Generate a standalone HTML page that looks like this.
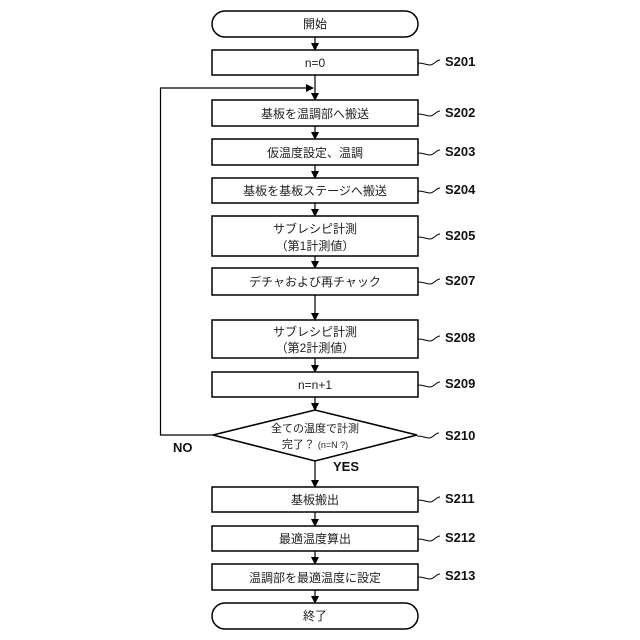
<!DOCTYPE html>
<html><head><meta charset="utf-8"><style>
html,body{margin:0;padding:0;background:#fff;}
svg{display:block;}
text{font-family:"Liberation Sans","Noto Sans CJK JP",sans-serif;}
</style></head><body>
<svg width="640" height="640" viewBox="0 0 640 640" xmlns="http://www.w3.org/2000/svg">
<defs><marker id="a" markerWidth="8" markerHeight="8" refX="7" refY="4" orient="auto" markerUnits="userSpaceOnUse"><path d="M0,0 L8,4 L0,8 z" fill="#000"/></marker></defs>
<g fill="#fff" stroke="#000" stroke-width="1.5">
<rect x="212" y="11" width="206" height="26" rx="13"/>
<rect x="212" y="50" width="206" height="25"/>
<rect x="212" y="100" width="206" height="26"/>
<rect x="212" y="139" width="206" height="26"/>
<rect x="212" y="178" width="206" height="25"/>
<rect x="212" y="216" width="206" height="40"/>
<rect x="212" y="268" width="206" height="27"/>
<rect x="212" y="320" width="206" height="38"/>
<rect x="212" y="372" width="206" height="25"/>
<polygon points="213,435 315,410 417,435 315,461"/>
<rect x="212" y="487" width="206" height="25"/>
<rect x="212" y="526" width="206" height="25"/>
<rect x="212" y="564" width="206" height="26"/>
<rect x="212" y="603" width="206" height="26" rx="13"/>
</g>
<g stroke="#000" stroke-width="1.2" fill="none" marker-end="url(#a)">
<line x1="315" y1="37" x2="315" y2="50"/>
<line x1="315" y1="75" x2="315" y2="100"/>
<line x1="315" y1="126" x2="315" y2="139"/>
<line x1="315" y1="165" x2="315" y2="178"/>
<line x1="315" y1="203" x2="315" y2="216"/>
<line x1="315" y1="256" x2="315" y2="268"/>
<line x1="315" y1="295" x2="315" y2="320"/>
<line x1="315" y1="358" x2="315" y2="372"/>
<line x1="315" y1="397" x2="315" y2="410"/>
<line x1="315" y1="461" x2="315" y2="487"/>
<line x1="315" y1="512" x2="315" y2="526"/>
<line x1="315" y1="551" x2="315" y2="564"/>
<line x1="315" y1="590" x2="315" y2="603"/>
<polyline points="213,435 160.5,435 160.5,88 313,88"/>
</g>
<g stroke="#000" stroke-width="1" fill="none">
<path d="M418,63 c6,0 8,2 12,2 c4,0 6,-5 10,-5"/>
<path d="M418,114 c6,0 8,2 12,2 c4,0 6,-5 10,-5"/>
<path d="M418,153 c6,0 8,2 12,2 c4,0 6,-5 10,-5"/>
<path d="M418,191 c6,0 8,2 12,2 c4,0 6,-5 10,-5"/>
<path d="M418,237 c6,0 8,2 12,2 c4,0 6,-5 10,-5"/>
<path d="M418,282 c6,0 8,2 12,2 c4,0 6,-5 10,-5"/>
<path d="M418,339 c6,0 8,2 12,2 c4,0 6,-5 10,-5"/>
<path d="M418,385 c6,0 8,2 12,2 c4,0 6,-5 10,-5"/>
<path d="M417,436 c6,0 8,2 12,2 c4,0 6,-5 10,-5"/>
<path d="M418,500 c6,0 8,2 12,2 c4,0 6,-5 10,-5"/>
<path d="M418,539 c6,0 8,2 12,2 c4,0 6,-5 10,-5"/>
<path d="M418,577 c6,0 8,2 12,2 c4,0 6,-5 10,-5"/>
</g>
<g font-size="12" text-anchor="middle" fill="#222">
<text x="315" y="28">開始</text>
<text x="315" y="67">n=0</text>
<text x="315" y="118">基板を温調部へ搬送</text>
<text x="315" y="157">仮温度設定、温調</text>
<text x="315" y="195">基板を基板ステージへ搬送</text>
<text x="315" y="233">サブレシピ計測</text>
<text x="315" y="250">（第1計測値）</text>
<text x="315" y="286">デチャおよび再チャック</text>
<text x="315" y="336">サブレシピ計測</text>
<text x="315" y="352">（第2計測値）</text>
<text x="315" y="389">n=n+1</text>
<text x="315" y="432" font-size="11">全ての温度で計測</text>
<text x="315" y="448" font-size="11">完了？ <tspan font-size="9">(n=N ?)</tspan></text>
<text x="315" y="504">基板搬出</text>
<text x="315" y="543">最適温度算出</text>
<text x="315" y="582">温調部を最適温度に設定</text>
<text x="315" y="620">終了</text>
</g>
<g font-size="13" font-weight="bold" fill="#111">
<text x="445" y="66">S201</text>
<text x="445" y="117">S202</text>
<text x="445" y="156">S203</text>
<text x="445" y="194">S204</text>
<text x="445" y="240">S205</text>
<text x="445" y="285">S207</text>
<text x="445" y="342">S208</text>
<text x="445" y="388">S209</text>
<text x="445" y="440">S210</text>
<text x="445" y="503">S211</text>
<text x="445" y="542">S212</text>
<text x="445" y="580">S213</text>
<text x="173" y="452">NO</text>
<text x="333" y="471">YES</text>
</g>
</svg>
</body></html>
